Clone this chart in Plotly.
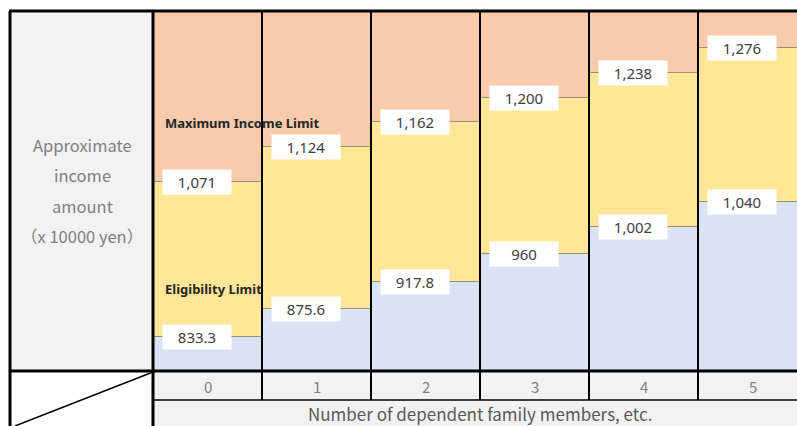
import plotly.graph_objects as go

# ---- data ----
categories = ["0", "1", "2", "3", "4", "5"]
eligibility_limit = [833.3, 875.6, 917.8, 960, 1002, 1040]
maximum_income_limit = [1071, 1124, 1162, 1200, 1238, 1276]
elig_labels = ["833.3", "875.6", "917.8", "960", "1,002", "1,040"]
max_labels = ["1,071", "1,124", "1,162", "1,200", "1,238", "1,276"]
y_title_lines = ["Approximate", "income", "amount", "（x 10000 yen）"]
x_title = "Number of dependent family members, etc."

# ---- layout constants ----
W, H = 797, 426
Y_MIN, Y_MAX = 782, 1333
PLOT_L, PLOT_T, PLOT_B = 153, 11, 370
COL_W = 109
ORANGE, YELLOW, BLUE, GRAY = "#f8cbad", "#ffe699", "#dae3f3", "#f2f2f2"
EDGE = "#9a8f6e"
FONT = "Noto Sans"
CJK = "Noto Sans CJK JP"

def px(x):
    return x / W

def py(y):
    return 1 - y / H

idx = list(range(len(categories)))
top = [Y_MAX + 200 for _ in idx]

fig = go.Figure()
fig.add_bar(x=idx, y=eligibility_limit, base=[0] * len(idx), width=1,
            marker=dict(color=BLUE, line=dict(color=EDGE, width=1)), hoverinfo="skip")
fig.add_bar(x=idx, y=[m - e for m, e in zip(maximum_income_limit, eligibility_limit)],
            base=eligibility_limit, width=1,
            marker=dict(color=YELLOW, line=dict(color=EDGE, width=1)), hoverinfo="skip")
fig.add_bar(x=idx, y=[t - m for t, m in zip(top, maximum_income_limit)],
            base=maximum_income_limit, width=1,
            marker=dict(color=ORANGE, line=dict(color=EDGE, width=1)), hoverinfo="skip")

shapes = []
# backgrounds
shapes.append(dict(type="rect", xref="paper", yref="paper", x0=px(10), x1=px(PLOT_L),
                   y0=py(PLOT_B), y1=py(PLOT_T), fillcolor=GRAY, line_width=0, layer="below"))
shapes.append(dict(type="rect", xref="paper", yref="paper", x0=px(PLOT_L), x1=1,
                   y0=py(426), y1=py(371), fillcolor=GRAY, line_width=0, layer="below"))

def hline(y, x0, x1, w):
    shapes.append(dict(type="line", xref="paper", yref="paper", x0=px(x0), x1=px(x1),
                       y0=py(y), y1=py(y), line=dict(color="black", width=w), layer="above"))

def vline(x, y0, y1, w):
    shapes.append(dict(type="line", xref="paper", yref="paper", x0=px(x), x1=px(x),
                       y0=py(y0), y1=py(y1), line=dict(color="black", width=w), layer="above"))

hline(PLOT_T, 9, W, 3)
hline(371, 9, W, 3)
hline(400, PLOT_L, W, 1.5)
vline(10, PLOT_T, H, 3)
vline(PLOT_L, PLOT_T, H, 3)
for i in idx[1:]:
    shapes.append(dict(type="line", xref="x", yref="paper", x0=i - 0.5, x1=i - 0.5,
                       y0=py(400), y1=py(PLOT_T), line=dict(color="black", width=2), layer="above"))
shapes.append(dict(type="line", xref="paper", yref="paper", x0=px(PLOT_L), y0=py(372),
                   x1=px(15), y1=py(426), line=dict(color="black", width=1.5), layer="above"))

ann = []
for i in idx:
    for val, lab in ((eligibility_limit[i], elig_labels[i]), (maximum_income_limit[i], max_labels[i])):
        ann.append(dict(x=i, y=val, xref="x", yref="y", text=lab, showarrow=False,
                        xanchor="center", yanchor="middle",
                        xshift=-11, bgcolor="white", width=66, height=22,
                        font=dict(family=FONT, size=15, color="#404040")))
    ann.append(dict(x=i, y=py(386), xref="x", yref="paper", text=categories[i], showarrow=False,
                    xanchor="center", yanchor="middle",
                    font=dict(family=CJK, size=15, color="#7f7f7f")))
ann.append(dict(x=-0.5, y=maximum_income_limit[0] + 90, xref="x", yref="y", xanchor="left",
                yanchor="middle", xshift=10, text="<b>Maximum Income Limit</b>", showarrow=False,
                font=dict(family=FONT, size=13, color="#262626")))
ann.append(dict(x=-0.5, y=eligibility_limit[0] + 73, xref="x", yref="y", xanchor="left",
                yanchor="middle", xshift=10, text="<b>Eligibility Limit</b>", showarrow=False,
                font=dict(family=FONT, size=13, color="#262626")))
for k, line in enumerate(y_title_lines):
    ann.append(dict(x=px(82), y=py(145 + 30.3 * k), xref="paper", yref="paper", text=line,
                    showarrow=False, xanchor="center", yanchor="middle",
                    font=dict(family=CJK, size=16.5, color="#7f7f7f")))
ann.append(dict(x=px(480), y=py(413), xref="paper", yref="paper", text=x_title, showarrow=False,
                xanchor="center", yanchor="middle",
                font=dict(family=CJK, size=17, color="#595959")))

fig.update_layout(
    width=W, height=H, margin=dict(l=0, r=0, t=0, b=0),
    paper_bgcolor="white", plot_bgcolor="white",
    barmode="overlay", bargap=0, showlegend=False,
    xaxis=dict(domain=[px(PLOT_L), 1], range=[-0.5, -0.5 + (W - PLOT_L) / COL_W],
               showgrid=False, zeroline=False, showticklabels=False, fixedrange=True),
    yaxis=dict(domain=[py(PLOT_B), py(PLOT_T)], range=[Y_MIN, Y_MAX],
               showgrid=False, zeroline=False, showticklabels=False, fixedrange=True),
    shapes=shapes, annotations=ann,
)
fig.write_html("out.html", config={"displayModeBar": False})

# remove the browser's default page margin so the figure sits at (0, 0)
with open("out.html", encoding="utf-8") as f:
    html = f.read()
html = html.replace("<body>", '<body style="margin:0;overflow:hidden">', 1)
with open("out.html", "w", encoding="utf-8") as f:
    f.write(html)
